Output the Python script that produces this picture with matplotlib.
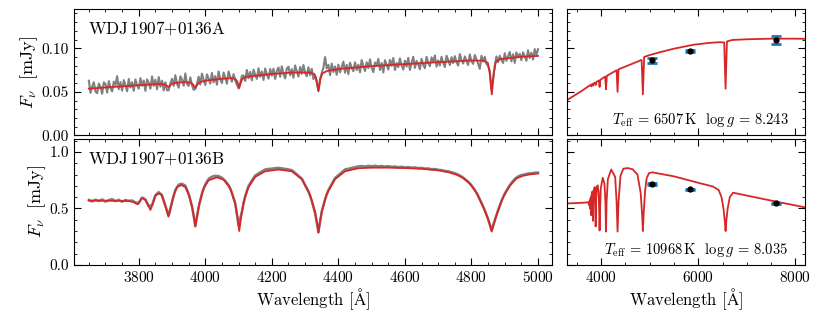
import numpy as np
import matplotlib
matplotlib.use("Agg")
import matplotlib.pyplot as plt
from matplotlib.ticker import MultipleLocator, FormatStrFormatter

# Computer Modern look
plt.rcParams['font.family'] = 'serif'
plt.rcParams['font.serif'] = ['cmr10', 'DejaVu Serif']
plt.rcParams['mathtext.fontset'] = 'cm'
plt.rcParams['axes.formatter.use_mathtext'] = True

# ---------------- star A: spectrum (mJy) ----------------
# observed spectrum, 5 A steps from 3650 to 5000
wl_a_obs = np.arange(3650, 5001, 5)
fx_a_obs = [
    0.0627, 0.0488, 0.0560, 0.0611, 0.0502, 0.0484, 0.0595, 0.0556, 0.0478, 0.0609,
    0.0590, 0.0491, 0.0623, 0.0544, 0.0505, 0.0616, 0.0578, 0.0679, 0.0530, 0.0612,
    0.0513, 0.0634, 0.0576, 0.0507, 0.0648, 0.0549, 0.0611, 0.0512, 0.0643, 0.0575,
    0.0536, 0.0657, 0.0569, 0.0630, 0.0511, 0.0643, 0.0604, 0.0535, 0.0677, 0.0568,
    0.0639, 0.0529, 0.0669, 0.0559, 0.0628, 0.0516, 0.0610, 0.0517, 0.0518, 0.0596,
    0.0649, 0.0568, 0.0691, 0.0593, 0.0547, 0.0678, 0.0639, 0.0570, 0.0711, 0.0590,
    0.0568, 0.0666, 0.0578, 0.0522, 0.0534, 0.0595, 0.0674, 0.0583, 0.0709, 0.0635,
    0.0578, 0.0700, 0.0652, 0.0594, 0.0716, 0.0608, 0.0680, 0.0582, 0.0734, 0.0646,
    0.0600, 0.0721, 0.0662, 0.0593, 0.0734, 0.0675, 0.0616, 0.0704, 0.0631, 0.0581,
    0.0539, 0.0603, 0.0684, 0.0688, 0.0624, 0.0751, 0.0656, 0.0729, 0.0631, 0.0754,
    0.0696, 0.0648, 0.0770, 0.0672, 0.0734, 0.0636, 0.0768, 0.0700, 0.0651, 0.0763,
    0.0685, 0.0766, 0.0648, 0.0739, 0.0780, 0.0672, 0.0793, 0.0704, 0.0655, 0.0767,
    0.0788, 0.0690, 0.0761, 0.0662, 0.0803, 0.0734, 0.0675, 0.0786, 0.0707, 0.0808,
    0.0717, 0.0679, 0.0783, 0.0691, 0.0764, 0.0647, 0.0684, 0.0604, 0.0516, 0.0646,
    0.0715, 0.0776, 0.0899, 0.0768, 0.0810, 0.0692, 0.0825, 0.0728, 0.0792, 0.0695,
    0.0812, 0.0724, 0.0785, 0.0847, 0.0719, 0.0810, 0.0702, 0.0834, 0.0775, 0.0737,
    0.0839, 0.0750, 0.0812, 0.0724, 0.0865, 0.0797, 0.0739, 0.0840, 0.0772, 0.0873,
    0.0775, 0.0726, 0.0837, 0.0798, 0.0879, 0.0750, 0.0831, 0.0722, 0.0863, 0.0814,
    0.0756, 0.0867, 0.0798, 0.0889, 0.0750, 0.0831, 0.0783, 0.0884, 0.0805, 0.0756,
    0.0858, 0.0789, 0.0890, 0.0751, 0.0832, 0.0903, 0.0774, 0.0855, 0.0817, 0.0758,
    0.0879, 0.0810, 0.0771, 0.0902, 0.0833, 0.0794, 0.0895, 0.0846, 0.0918, 0.0789,
    0.0860, 0.0801, 0.0902, 0.0833, 0.0784, 0.0915, 0.0866, 0.0807, 0.0898, 0.0829,
    0.0910, 0.0841, 0.0802, 0.0933, 0.0864, 0.0825, 0.0906, 0.0857, 0.0808, 0.0929,
    0.0850, 0.0821, 0.0922, 0.0873, 0.0824, 0.0764, 0.0914, 0.0848, 0.0901, 0.0821,
    0.0799, 0.0742, 0.0531, 0.0640, 0.0800, 0.0906, 0.0840, 0.0914, 0.0867, 0.0831,
    0.0944, 0.0856, 0.0907, 0.0958, 0.0850, 0.0931, 0.0832, 0.0953, 0.0895, 0.0936,
    0.0863, 0.0954, 0.0905, 0.0856, 0.0977, 0.0888, 0.0949, 0.0870, 0.0991, 0.0922,
    0.0990]

# best fit model for A over the spectrum range
wl_a_mod = [3650, 3700, 3750, 3800, 3859, 3873, 3881, 3885, 3889, 3893, 3897, 3905, 3919,
            3940, 3954, 3962, 3966, 3970, 3974, 3978, 3986, 4000, 4050,
            4077, 4090, 4096, 4099, 4102, 4105, 4108, 4114, 4127, 4200, 4260,
            4315, 4328, 4334, 4337, 4340, 4343, 4346, 4352, 4365, 4400, 4500, 4600, 4700, 4800,
            4836, 4849, 4855, 4858, 4861, 4864, 4867, 4873, 4886, 4950, 5000]
fx_a_mod = [0.0537, 0.0550, 0.0563, 0.0576, 0.0589, 0.0588, 0.0579, 0.0567, 0.0555, 0.0569, 0.0584, 0.0598, 0.0607,
            0.0611, 0.0607, 0.0589, 0.0567, 0.0544, 0.0569, 0.0593, 0.0615, 0.0628, 0.0650,
            0.0657, 0.0649, 0.0619, 0.0581, 0.0544, 0.0583, 0.0623, 0.0657, 0.0674, 0.0705, 0.0721,
            0.0721, 0.0703, 0.0646, 0.0576, 0.0506, 0.0578, 0.0650, 0.0711, 0.0738, 0.0762, 0.0795, 0.0818, 0.0840, 0.0860,
            0.0857, 0.0833, 0.0712, 0.0590, 0.0470, 0.0592, 0.0716, 0.0842, 0.0876, 0.0903, 0.0912]

# model SED for A over the photometry range
wl_a_sed = [3300, 3400, 3500, 3600, 3700, 3785, 3798, 3811, 3822, 3835, 3848, 3875, 3889, 3903,
            3955, 3970, 3985, 4085, 4102, 4119, 4320, 4340, 4360, 4835, 4861, 4887,
            5000, 5250, 5500, 5900, 6200, 6450, 6535, 6563, 6591, 6700, 7000, 7500, 8000, 8200]
fx_a_sed = [0.0405, 0.0440, 0.0475, 0.0510, 0.0548, 0.0580, 0.0562, 0.0586, 0.0590, 0.0570, 0.0596, 0.0605, 0.0578, 0.0612,
            0.0630, 0.0556, 0.0638, 0.0675, 0.0529, 0.0683, 0.0748, 0.0500, 0.0758, 0.0866, 0.0470, 0.0900,
            0.0922, 0.0960, 0.0995, 0.1040, 0.1060, 0.1070, 0.1066, 0.0536, 0.1078, 0.1095, 0.1103, 0.1110, 0.1110, 0.1108]

# photometry for A
wl_phot = [5045, 5821, 7608]
fx_a_phot = [0.0862, 0.0969, 0.1090]
er_a_phot = [0.0030, 0.0015, 0.0045]

# ---------------- star B ----------------
wl_b_obs = np.arange(3650, 5001, 10)
fx_b_obs = [
    0.575, 0.562, 0.578, 0.566, 0.580, 0.561, 0.574, 0.583, 0.565, 0.577,
    0.560, 0.575, 0.568, 0.571, 0.553, 0.548, 0.597, 0.580, 0.520, 0.531,
    0.618, 0.645, 0.618, 0.524, 0.440, 0.556, 0.664, 0.712, 0.720, 0.702,
    0.630, 0.520, 0.345, 0.512, 0.635, 0.714, 0.763, 0.782, 0.790, 0.787,
    0.772, 0.745, 0.707, 0.640, 0.546, 0.352, 0.470, 0.610, 0.700, 0.748,
    0.792, 0.812, 0.828, 0.846, 0.851, 0.853, 0.858, 0.860, 0.856, 0.851,
    0.846, 0.840, 0.815, 0.790, 0.765, 0.708, 0.652, 0.570, 0.462, 0.290,
    0.474, 0.582, 0.663, 0.716, 0.770, 0.795, 0.820, 0.846, 0.852, 0.860,
    0.866, 0.873, 0.876, 0.872, 0.878, 0.874, 0.879, 0.873, 0.877, 0.871,
    0.875, 0.869, 0.872, 0.866, 0.870, 0.864, 0.867, 0.861, 0.864, 0.858,
    0.860, 0.854, 0.855, 0.848, 0.850, 0.843, 0.840, 0.833, 0.830, 0.821,
    0.812, 0.800, 0.784, 0.762, 0.738, 0.706, 0.664, 0.613, 0.550, 0.484,
    0.406, 0.308, 0.394, 0.485, 0.566, 0.632, 0.683, 0.727, 0.761, 0.784,
    0.796, 0.802, 0.810, 0.812, 0.817, 0.818]

wl_b_mod = [3650, 3700, 3750, 3772, 3785, 3792, 3797, 3802, 3808, 3813, 3820, 3828, 3835, 3842,
            3850, 3860, 3868, 3878, 3885, 3889, 3894, 3905, 3915, 3928, 3940, 3952, 3962, 3967,
            3970, 3974, 3982, 3995, 4010, 4035, 4055, 4075, 4090, 4097, 4102, 4107, 4115, 4130,
            4150, 4180, 4220, 4260, 4290, 4315, 4330, 4336, 4340, 4344, 4350, 4365, 4390, 4420,
            4460, 4500, 4550, 4600, 4650, 4700, 4730, 4755, 4775, 4795, 4815, 4835, 4848, 4855,
            4861, 4867, 4875, 4895, 4915, 4935, 4955, 4975, 5000]
fx_b_mod = [0.570, 0.569, 0.567, 0.565, 0.556, 0.544, 0.537, 0.560, 0.588, 0.591, 0.575, 0.530, 0.487, 0.540,
            0.610, 0.634, 0.622, 0.540, 0.470, 0.428, 0.480, 0.620, 0.690, 0.708, 0.690, 0.610, 0.490, 0.400,
            0.339, 0.410, 0.540, 0.680, 0.750, 0.776, 0.755, 0.680, 0.540, 0.420, 0.300, 0.410, 0.560, 0.690,
            0.780, 0.830, 0.845, 0.830, 0.760, 0.620, 0.460, 0.370, 0.285, 0.370, 0.470, 0.630, 0.760, 0.830,
            0.857, 0.862, 0.862, 0.858, 0.852, 0.838, 0.822, 0.800, 0.770, 0.720, 0.640, 0.516, 0.420, 0.360,
            0.295, 0.360, 0.440, 0.600, 0.700, 0.767, 0.790, 0.802, 0.810]

wl_b_sed = [3300, 3500, 3700, 3745, 3752, 3758, 3768, 3771, 3776, 3790, 3798, 3806, 3822, 3835, 3848,
            3870, 3882, 3889, 3896, 3912, 3930, 3950, 3963, 3970, 3977, 3995, 4035, 4070, 4090, 4102,
            4114, 4140, 4210, 4290, 4320, 4340, 4360, 4400, 4460, 4550, 4650, 4750, 4815, 4845, 4861,
            4877, 4907, 4940, 4990, 5060, 5500, 6000, 6300, 6420, 6480, 6520, 6545, 6563, 6581, 6606,
            6650, 6716, 7500, 8200]
fx_b_sed = [0.545, 0.548, 0.553, 0.556, 0.530, 0.562, 0.568, 0.500, 0.580, 0.600, 0.440, 0.620, 0.650, 0.390, 0.660,
            0.690, 0.560, 0.340, 0.560, 0.690, 0.705, 0.640, 0.460, 0.305, 0.460, 0.680, 0.772, 0.720, 0.560, 0.295,
            0.560, 0.760, 0.845, 0.780, 0.560, 0.295, 0.560, 0.790, 0.853, 0.858, 0.848, 0.800, 0.640, 0.450, 0.300,
            0.450, 0.660, 0.770, 0.815, 0.820, 0.785, 0.728, 0.695, 0.665, 0.600, 0.500, 0.400, 0.300, 0.400, 0.500,
            0.600, 0.640, 0.570, 0.510]

fx_b_phot = [0.714, 0.670, 0.546]
er_b_phot = [0.008, 0.006, 0.006]

labels = ['WDJ\\,1907{+}0136A', 'WDJ\\,1907{+}0136B']
params = [(6507, 8.243), (10968, 8.035)]

red = '#d62728'

fig = plt.figure(figsize=(8.3, 3.12), dpi=100)
gs = fig.add_gridspec(2, 2, left=0.089, right=0.970, top=0.971, bottom=0.151,
                      width_ratios=[478, 238], wspace=0.042, hspace=0.025)
axes = [[fig.add_subplot(gs[r, c]) for c in range(2)] for r in range(2)]

rows = [
    (wl_a_obs, fx_a_obs, wl_a_mod, fx_a_mod, wl_a_sed, fx_a_sed, fx_a_phot, er_a_phot),
    (wl_b_obs, fx_b_obs, wl_b_mod, fx_b_mod, wl_b_sed, fx_b_sed, fx_b_phot, er_b_phot),
]

for r, (wo, fo, wm, fm, ws, fs, fp, ep) in enumerate(rows):
    axl, axr = axes[r]
    # spectrum with model
    axl.plot(wo, fo, color='gray', lw=1.5 if r == 0 else 1.8, zorder=1)
    axl.plot(wm, fm, color=red, lw=1.3, zorder=2)
    axl.text(0.03, 0.915, '$\\mathrm{' + labels[r] + '}$', transform=axl.transAxes,
             ha='left', va='top', fontsize=12.3)
    axl.set_xlim(3605, 5042)
    axl.set_ylabel(r'$F_\nu\ \ [\mathrm{mJy}]$', fontsize=13, labelpad=1)
    axl.xaxis.set_major_locator(MultipleLocator(200))
    axl.xaxis.set_minor_locator(MultipleLocator(50))

    # photometry with model SED
    axr.plot(ws, fs, color=red, lw=1.3, zorder=1)
    axr.errorbar(wl_phot, fp, yerr=ep, fmt='none', ecolor='#1f77b4', elinewidth=2,
                 capsize=3.5, capthick=2, zorder=2)
    axr.plot(wl_phot, fp, 'o', color='black', ms=3.5, zorder=3)
    teff, logg = params[r]
    axr.text(0.93, 0.09, r'$T_{\rm eff}$ = %d$\,$K  log$\,g$ = %.3f' % (teff, logg),
             transform=axr.transAxes, ha='right', va='baseline', fontsize=10.5)
    axr.set_xlim(3300, 8200)
    axr.xaxis.set_major_locator(MultipleLocator(2000))
    axr.xaxis.set_minor_locator(MultipleLocator(500))
    axr.tick_params(labelleft=False)

    for ax in (axl, axr):
        if r == 0:
            ax.set_ylim(0, 0.145)
            ax.yaxis.set_major_locator(MultipleLocator(0.05))
            ax.yaxis.set_minor_locator(MultipleLocator(0.01))
            ax.tick_params(labelbottom=False)
        else:
            ax.set_ylim(0, 1.12)
            ax.yaxis.set_major_locator(MultipleLocator(0.5))
            ax.yaxis.set_minor_locator(MultipleLocator(0.1))
            ax.set_xlabel(r'Wavelength [$\mathrm{\AA}$]', fontsize=12, labelpad=1)
        ax.tick_params(which='both', direction='in', top=True, right=True, labelsize=11)
        ax.tick_params(which='major', length=5)
        ax.tick_params(which='minor', length=2.5)

axes[0][0].yaxis.set_major_formatter(FormatStrFormatter('%.2f'))
axes[1][0].yaxis.set_major_formatter(FormatStrFormatter('%.1f'))

fig.savefig('out.png', dpi=100)
